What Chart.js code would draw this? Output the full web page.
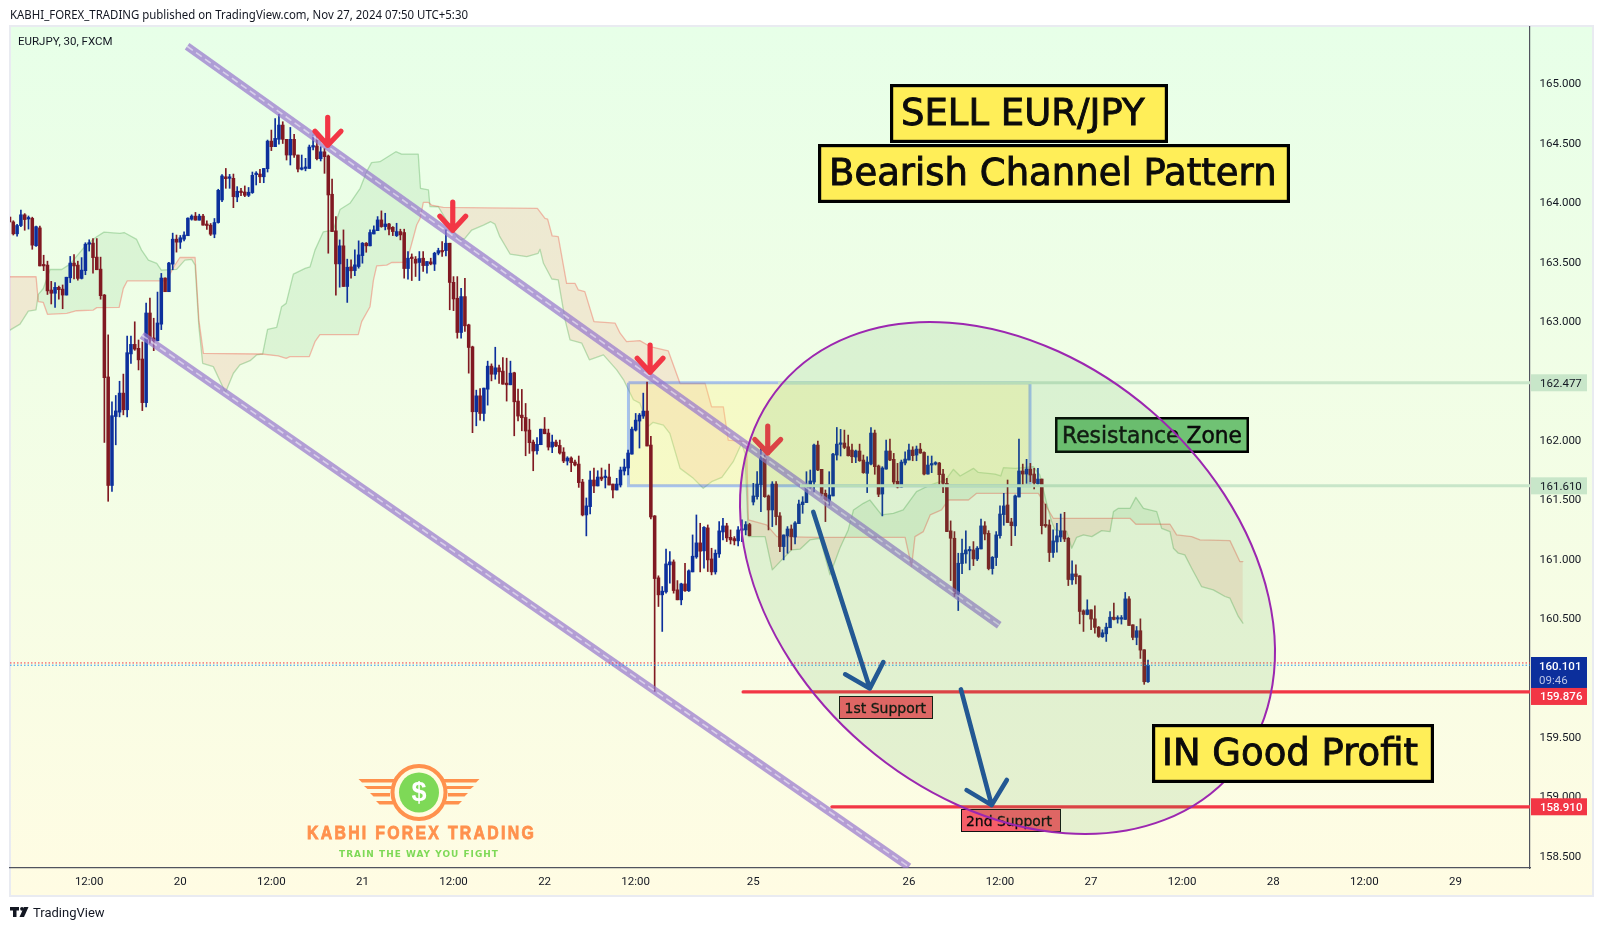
<!DOCTYPE html>
<html><head><meta charset="utf-8">
<style>html,body{margin:0;padding:0;background:#fff}canvas{display:block}</style>
<script src="https://cdn.jsdelivr.net/npm/chart.js@4/dist/chart.umd.js"></script>
</head><body><canvas id="c" width="1602" height="931"></canvas>
<script>
const opens=[163.87,163.83,163.73,163.80,163.89,163.855,163.86,163.63,163.78,163.467,
163.467,163.257,163.23,163.28,163.265,163.215,163.36,163.484,163.467,163.355,
163.42,163.643,163.652,163.534,163.433,163.215,162.526,161.613,162.193,162.23,
162.39,162.25,162.72,162.80,162.767,162.677,162.31,163.064,162.854,162.83,
162.97,163.358,163.243,163.475,163.685,163.66,163.685,163.714,163.853,163.879,
163.845,163.879,163.811,163.803,163.727,163.825,164.015,164.21,164.197,164.197,
164.04,164.088,164.082,164.054,164.077,164.228,164.233,164.21,164.278,164.51,
164.463,164.525,164.645,164.525,164.393,164.525,164.393,164.273,164.28,164.28,
164.46,164.469,164.362,164.42,164.385,164.063,163.755,163.477,163.629,163.287,
163.452,163.421,163.455,163.547,163.651,163.629,163.729,163.757,163.847,163.791,
163.813,163.785,163.715,163.749,163.741,163.438,163.533,163.517,163.489,163.525,
163.463,163.494,163.475,163.567,163.589,163.589,163.651,163.322,163.188,162.90,
163.202,162.964,162.779,162.233,162.367,162.219,162.423,162.617,162.549,162.603,
162.575,162.474,162.46,162.561,162.323,162.205,162.185,162.079,161.978,161.905,
161.956,162.087,162.054,161.936,161.978,161.95,161.894,161.819,161.844,161.81,
161.793,161.642,161.365,161.435,161.659,161.609,161.684,161.679,161.684,161.625,
161.575,161.617,161.735,161.76,161.877,162.079,162.155,162.197,162.239,161.953,
161.357,160.836,160.693,160.718,160.945,160.97,160.735,160.651,160.785,160.727,
160.886,161.012,161.13,161.063,161.256,160.995,160.886,161.037,161.222,161.273,
161.177,161.166,161.147,161.236,161.239,161.284,161.474,161.519,161.62,161.844,
161.525,161.407,161.625,161.357,161.099,161.189,161.247,161.18,161.292,161.452,
161.469,161.6,161.642,161.953,161.749,161.547,161.483,161.525,161.869,161.959,
161.97,161.939,161.911,161.852,161.903,161.827,161.715,161.793,162.054,161.777,
161.541,161.751,161.903,161.833,161.648,161.6,161.802,161.827,161.911,161.869,
161.919,161.891,161.709,161.785,161.793,161.802,161.709,161.631,161.231,161.169,
160.701,160.956,161.037,161.063,161.071,160.995,161.079,161.273,161.211,160.914,
161.007,161.191,161.368,161.449,161.306,161.273,161.516,161.735,161.709,161.751,
161.709,161.628,161.667,161.281,161.281,161.049,161.138,161.18,161.231,161.169,
160.819,160.869,160.853,160.559,160.528,160.567,160.491,160.421,160.34,160.365,
160.416,160.505,160.489,160.489,160.486,160.659,160.441,160.335,160.391,160.231,159.962];
const highs=[163.87,163.84,163.81,163.93,163.90,163.88,163.87,163.795,163.795,163.55,
163.50,163.33,163.32,163.29,163.30,163.365,163.54,163.556,163.50,163.53,
163.655,163.68,163.69,163.69,163.534,163.22,162.88,162.316,162.37,162.49,
162.55,162.87,162.87,162.99,162.837,162.82,163.148,163.19,163.02,163.24,
163.397,163.36,163.49,163.736,163.72,163.716,163.747,163.865,163.89,163.91,
163.895,163.895,163.84,163.817,163.859,164.105,164.228,164.28,164.23,164.233,
164.127,164.113,164.133,164.12,164.25,164.253,164.273,164.28,164.519,164.603,
164.70,164.735,164.673,164.525,164.625,164.567,164.393,164.393,164.365,164.477,
164.56,164.57,164.463,164.449,164.393,164.191,163.875,163.679,163.763,163.517,
163.511,163.595,163.671,163.657,163.657,163.763,163.797,163.875,163.923,163.903,
163.819,163.791,163.819,163.769,163.769,163.581,163.561,163.539,163.581,163.581,
163.497,163.525,163.575,163.609,163.665,163.763,163.651,163.37,163.37,163.272,
163.356,162.97,162.785,162.415,162.429,162.432,162.659,162.636,162.776,162.625,
162.689,162.684,162.659,162.566,162.423,162.421,162.303,162.171,161.995,162.017,
162.087,162.185,162.087,162.037,161.995,161.995,161.931,161.855,161.855,161.827,
161.861,161.665,161.508,161.735,161.76,161.737,161.76,161.743,161.793,161.625,
161.673,161.768,161.835,161.911,162.104,162.219,162.219,162.39,162.482,162.026,
161.36,160.853,160.763,161.077,161.057,160.987,160.813,160.791,160.959,160.903,
161.197,161.365,161.295,161.267,161.281,161.085,161.071,161.309,161.337,161.295,
161.239,161.183,161.267,161.323,161.309,161.295,161.631,161.729,161.933,161.869,
161.533,161.645,161.645,161.385,161.197,161.267,161.281,161.309,161.491,161.519,
161.729,161.743,161.961,161.987,161.749,161.575,161.729,161.883,162.101,162.085,
162.079,162.037,161.961,161.911,161.961,161.869,161.855,162.101,162.079,161.785,
161.771,161.995,162.003,161.883,161.799,161.827,161.897,161.961,161.939,161.945,
161.967,161.897,161.861,161.861,161.813,161.807,161.749,161.673,161.315,161.225,
161.043,161.163,161.231,161.099,161.141,161.099,161.331,161.309,161.233,161.015,
161.225,161.441,161.547,161.659,161.337,161.533,162.003,161.793,161.833,161.799,
161.757,161.757,161.667,161.457,161.323,161.239,161.295,161.373,161.387,161.175,
160.979,160.945,160.855,160.567,160.651,160.567,160.601,160.427,160.399,160.455,
160.553,160.623,160.517,160.519,160.713,160.679,160.441,160.427,160.491,160.231,160.144];
const lows=[163.83,163.72,163.71,163.79,163.76,163.77,163.60,163.625,163.46,163.42,
163.22,163.14,163.11,163.18,163.10,163.215,163.32,163.35,163.34,163.35,
163.386,163.585,163.40,163.428,163.18,161.975,161.48,161.563,161.955,162.19,
162.207,162.19,162.64,162.75,162.585,162.243,162.274,162.81,162.747,162.83,
162.924,163.243,163.243,163.428,163.576,163.607,163.67,163.714,163.845,163.845,
163.845,163.803,163.767,163.716,163.697,163.82,164.0,164.113,164.113,163.95,
164.0,164.05,164.043,164.043,164.07,164.141,164.16,164.16,164.25,164.43,
164.463,164.485,164.49,164.351,164.309,164.373,164.25,164.267,164.26,164.28,
164.435,164.351,164.343,164.239,163.567,163.749,163.214,163.281,163.287,163.153,
163.357,163.377,163.441,163.483,163.575,163.629,163.729,163.757,163.785,163.763,
163.721,163.715,163.707,163.679,163.357,163.349,163.337,163.371,163.337,163.413,
163.399,163.469,163.421,163.553,163.539,163.545,163.091,163.084,162.852,162.852,
162.908,162.558,162.057,162.115,162.163,162.157,162.289,162.493,162.507,162.471,
162.465,162.323,162.46,162.031,162.157,162.073,161.863,161.883,161.737,161.877,
161.956,162.048,161.911,161.889,161.939,161.877,161.805,161.785,161.729,161.777,
161.597,161.357,161.189,161.373,161.553,161.609,161.653,161.592,161.617,161.508,
161.575,161.6,161.701,161.701,161.877,162.071,161.928,162.177,161.945,161.331,
159.881,160.595,160.385,160.707,160.791,160.707,160.651,160.609,160.721,160.721,
160.886,161.0,160.886,160.917,160.889,160.861,160.867,161.007,161.155,161.141,
161.121,161.113,161.105,161.141,161.197,161.189,161.449,161.497,161.393,161.513,
161.239,161.267,161.281,161.057,160.987,161.043,161.071,161.121,161.292,161.379,
161.469,161.589,161.561,161.737,161.525,161.309,161.446,161.525,161.827,161.861,
161.922,161.861,161.805,161.805,161.816,161.715,161.553,161.785,161.707,161.519,
161.357,161.751,161.821,161.614,161.592,161.6,161.785,161.827,161.821,161.821,
161.883,161.701,161.709,161.721,161.785,161.623,161.553,161.225,160.813,160.679,
160.561,160.872,160.959,160.903,160.939,160.981,161.079,161.155,160.903,160.867,
160.939,161.169,161.278,161.301,161.107,161.191,161.516,161.617,161.631,161.645,
161.583,161.609,161.205,161.261,160.973,161.007,161.051,161.141,161.141,160.771,
160.78,160.785,160.449,160.385,160.525,160.399,160.371,160.335,160.335,160.301,
160.416,160.483,160.455,160.447,160.486,160.435,160.315,160.273,160.158,159.94,159.957];
const closes=[163.83,163.73,163.80,163.89,163.85,163.86,163.635,163.79,163.46,163.46,
163.25,163.23,163.28,163.26,163.215,163.365,163.484,163.46,163.355,163.425,
163.643,163.65,163.53,163.428,163.21,162.52,161.613,162.20,162.24,162.39,
162.25,162.73,162.80,162.76,162.67,162.31,163.064,162.845,162.83,162.98,
163.358,163.243,163.484,163.685,163.66,163.697,163.72,163.862,163.879,163.845,
163.879,163.803,163.80,163.727,163.825,164.096,164.217,164.194,164.205,164.043,
164.088,164.077,164.054,164.08,164.222,164.233,164.21,164.28,164.51,164.463,
164.533,164.645,164.525,164.393,164.525,164.393,164.275,164.278,164.287,164.46,
164.469,164.362,164.42,164.379,164.057,163.749,163.477,163.629,163.287,163.449,
163.419,163.469,163.553,163.651,163.629,163.741,163.763,163.847,163.791,163.813,
163.769,163.749,163.749,163.721,163.438,163.525,163.522,163.483,163.522,163.463,
163.497,163.477,163.567,163.589,163.578,163.651,163.321,163.182,162.90,163.202,
162.956,162.774,162.233,162.367,162.219,162.432,162.617,162.549,162.603,162.569,
162.465,162.46,162.558,162.317,162.197,162.183,162.071,161.973,161.903,161.959,
162.087,162.048,161.936,161.978,161.945,161.886,161.819,161.844,161.805,161.785,
161.637,161.365,161.441,161.659,161.609,161.684,161.667,161.684,161.617,161.575,
161.625,161.743,161.768,161.886,162.087,162.163,162.205,162.239,161.945,161.348,
160.83,160.693,160.724,160.953,160.97,160.729,160.651,160.785,160.727,160.895,
161.018,161.13,161.06,161.261,160.987,160.886,161.043,161.231,161.273,161.172,
161.155,161.147,161.239,161.245,161.284,161.191,161.525,161.625,161.844,161.519,
161.407,161.625,161.351,161.099,161.197,161.247,161.183,161.298,161.457,161.474,
161.609,161.651,161.953,161.743,161.541,161.483,161.533,161.877,161.961,161.97,
161.933,161.863,161.855,161.903,161.821,161.721,161.81,162.054,161.771,161.539,
161.76,161.903,161.827,161.642,161.6,161.81,161.835,161.911,161.864,161.919,
161.886,161.709,161.785,161.793,161.802,161.704,161.631,161.225,161.169,160.701,
160.959,161.043,161.071,161.068,160.995,161.085,161.273,161.205,160.914,161.009,
161.197,161.373,161.441,161.301,161.275,161.525,161.735,161.709,161.751,161.701,
161.634,161.667,161.275,161.273,161.049,161.147,161.189,161.231,161.163,160.822,
160.869,160.847,160.553,160.528,160.567,160.489,160.419,160.343,160.374,160.421,
160.505,160.486,160.494,160.494,160.659,160.435,160.335,160.391,160.228,159.962,160.101];

const spanA=[[0.13,162.92],[2.77,162.97],[4.96,163.08],[6.98,163.09],[7.6,163.22],[8.9,163.27],[10.67,163.43],[13.75,163.43],[15.94,163.475],[20.16,163.635],[22.97,163.705],[24.9,163.744],[29.1,163.733],[30.2,163.741],[33.5,163.683],[34.8,163.593],[36.6,163.509],[38.8,163.481],[40,163.425],[44.05,163.431],[46.2,163.509],[48,163.515],[48.9,163.467],[49.9,162.949],[50.9,162.641],[53.7,162.613],[56.9,162.395],[59,162.557],[60.7,162.627],[63.4,162.663],[65.1,162.711],[66.7,162.719],[68,162.927],[70.4,162.943],[71.7,163.117],[72.9,163.145],[74.8,163.391],[77.9,163.439],[79.2,163.453],[80.5,163.593],[82.7,163.747],[85.3,163.761],[87.1,163.935],[89.7,163.987],[92.4,164.113],[94.1,164.253],[95.4,164.329],[97.6,164.337],[101.8,164.421],[103.3,164.401],[107.7,164.401],[108.3,164.113],[110.4,164.099],[110.8,163.959],[113,163.958],[116.1,163.79],[118.7,163.678],[120,163.692],[121.8,163.762],[124.9,163.804],[126.8,163.832],[127.9,163.812],[129.2,163.706],[131.9,163.56],[136.3,163.538],[139.3,163.566],[139.8,163.6],[140.7,163.482],[142.9,163.35],[144.6,163.342],[146.4,163.006],[147.7,162.838],[150.8,162.81],[152.8,162.67],[156.5,162.712],[160,162.586],[161.8,162.502],[164.4,162.334],[166.1,162.306],[168.3,162.11],[169.6,162.144],[172.3,162.121],[174,162.051],[176.7,161.757],[180.2,161.673],[182.8,161.589],[185,161.645],[187.7,161.681],[190.7,161.813],[192.9,161.967],[193.8,161.883],[194.7,161.183],[199.1,161.183],[201,160.903],[203.5,160.987],[206.1,161.071],[208.3,161.077],[210.9,161.155],[213.6,161.169],[216.2,160.861],[218.8,161.085],[221,161.239],[222.4,161.407],[225,161.463],[226.7,161.491],[229.8,161.365],[232.9,161.379],[235.5,161.407],[239,161.561],[242.6,161.617],[245.2,161.645],[246.8,161.665],[248.7,161.749],[250.5,161.693],[254,161.757],[255.3,161.723],[259.7,161.709],[261.2,161.693],[261.9,161.763],[265,161.757],[269.8,161.771],[271.5,161.701],[273.3,161.463],[274.6,161.309],[275.5,161.239],[278.6,161.225],[279.9,161.085],[281.2,161.177],[283,161.197],[285.2,161.183],[287.8,161.233],[290,161.225],[290.9,161.393],[292.2,161.421],[295.3,161.421],[296.8,161.513],[298.8,161.421],[302.3,161.393],[303.6,161.253],[305.8,161.225],[306.7,161.085],[308,161.043],[309.7,161.029],[311.5,160.917],[314.1,160.763],[317.2,160.735],[320.3,160.679],[321.6,160.665],[323.8,160.511],[325,160.455]];
const spanB=[[0.13,163.369],[7,163.369],[7.6,163.159],[8.9,163.153],[10,163.053],[15.1,163.061],[17.7,163.083],[22.1,163.089],[23,163.109],[28.9,163.111],[30,163.271],[31.05,163.335],[41.4,163.335],[43.3,163.453],[44.9,163.531],[48.9,163.531],[49.9,163.005],[51.1,162.725],[66.45,162.719],[70.8,162.703],[72.9,162.683],[73.9,162.697],[79,162.697],[80.5,162.823],[81.8,162.882],[91.9,162.882],[92.8,162.991],[95,163.117],[95.9,163.341],[96.75,163.461],[99.4,163.467],[100.7,163.489],[104.65,163.49],[107.3,163.804],[108.2,163.86],[109.05,163.994],[110.4,163.994],[111.2,163.972],[114.3,163.952],[139.1,163.944],[141.1,163.86],[141.8,163.854],[143,163.712],[144.6,163.706],[146.8,163.314],[149,163.314],[149.9,163.258],[151.6,163.244],[154,162.992],[159.6,162.978],[160.9,162.894],[162.6,162.824],[166.1,162.832],[168.8,162.782],[173.6,162.745],[176.7,162.471],[183.3,162.471],[185,162.275],[188.1,162.275],[189.4,161.995],[194.2,161.981],[194.7,161.323],[199.5,161.281],[202.2,161.183],[213.6,161.177],[236,161.177],[237.7,160.931],[238.6,161.183],[240.8,161.225],[242.6,161.365],[245.6,161.407],[247.4,161.491],[252.7,161.491],[254.85,161.547],[271.1,161.547],[275.05,161.337],[295.25,161.337],[296.8,161.287],[305.8,161.287],[307.55,161.197],[311.5,161.183],[313.7,161.155],[321.6,161.149],[324.2,160.973],[325,160.973]];

const channelUpper=[[46.8,165.308],[260.8,160.438]];
const channelLower=[[34.9,162.877],[237,158.404]];
const redArrows=[
 [[83.85,164.71],[83.85,164.475],[83.85,null],[80.5,164.593],[83.85,164.475],[87.35,164.593]],
 [[116.8,163.996],[116.8,163.76],[116.8,null],[113.4,163.878],[116.8,163.76],[120.2,163.878]],
 [[168.8,162.793],[168.8,162.566],[168.8,null],[165.4,162.684],[168.8,162.566],[172.2,162.684]],
 [[199.8,162.112],[199.8,161.887],[199.8,null],[196.4,162.0],[199.8,161.887],[203.2,162.0]]
];
const blueArrows=[
 [[211.8,161.391],[226.7,159.906],[226.7,null],[220.2,160.024],[226.7,159.906],[230.25,160.127]],
 [[250.7,159.897],[258.8,158.924],[258.8,null],[252.2,159.05],[258.8,158.924],[262.8,159.135]]
];
const zoneTop=162.477, zoneBottom=161.61, zoneStart=163.1, zoneEnd=268.9;
const support1=159.876, support2=158.91, support1Start=193.3, support2Start=216.7;
const lastPrice=160.101, prevLine=160.12;
const xMin=0.13, xMax=400.66, yMin=158.395, yMax=165.47;
const timeTicks=[21,45,69,93,117,141,165,196,237,261,285,309,333,357,381];
const timeLabels=["12:00","20","12:00","21","12:00","22","12:00","25","26","12:00","27","12:00","28","12:00","29"];
const priceTicks=[158.5,159,159.5,160,160.5,161,161.5,162,162.5,163,163.5,164,164.5,165];

const BLUE='#0c2f9c', RED='#801922';
const pts=a=>a.map(p=>({x:p[0],y:p[1]}));
const line=(data,color,width,order,extra)=>Object.assign({type:'line',data:pts(data),borderColor:color,borderWidth:width,pointRadius:0,tension:0,fill:false,order,borderCapStyle:'round',borderJoinStyle:'round',spanGaps:false},extra||{});
const candleColor=opens.map((o,i)=>closes[i]>=o?BLUE:RED);

const datasets=[
 line(spanA,'rgba(67,160,71,0.33)',1.3,100,{fill:{target:1,above:'rgba(67,160,71,0.11)',below:'rgba(244,67,54,0.115)'}}),
 line(spanB,'rgba(244,67,54,0.35)',1.3,99),
 line([[zoneStart,zoneTop],[zoneEnd,zoneTop]],'rgba(0,0,0,0)',0,98,{fill:{value:zoneBottom},backgroundColor:'rgba(255,241,118,0.28)'}),
 line([[zoneStart,zoneTop],[zoneEnd,zoneTop],[zoneEnd,zoneBottom],[zoneStart,zoneBottom],[zoneStart,zoneTop]],'rgba(41,98,255,0.38)',3,97,{borderCapStyle:'butt',borderJoinStyle:'miter'}),
 {type:'bar',data:opens.map((o,i)=>({x:i,y:[lows[i],highs[i]]})),backgroundColor:candleColor,barThickness:1,grouped:false,order:60},
 {type:'bar',data:opens.map((o,i)=>({x:i,y:[o,closes[i]]})),backgroundColor:candleColor,barThickness:2.9,minBarLength:1.5,grouped:false,order:59},
 line(channelUpper,'rgba(149,117,205,0.7)',8,40,{borderCapStyle:'butt'}),
 line(channelUpper,'rgba(255,255,255,0.5)',1.6,39,{borderDash:[7,4],borderCapStyle:'butt'}),
 line(channelLower,'rgba(149,117,205,0.7)',8,40,{borderCapStyle:'butt'}),
 line(channelLower,'rgba(255,255,255,0.5)',1.6,39,{borderDash:[7,4],borderCapStyle:'butt'}),
 line([[202.5,zoneTop],[xMax,zoneTop]],'#c8e6c9',3,38,{borderCapStyle:'butt'}),
 line([[208.3,zoneBottom],[xMax,zoneBottom]],'#c8e6c9',3,38,{borderCapStyle:'butt'}),
 line([[xMin,prevLine],[xMax,prevLine]],'#f23645',1,37,{borderDash:[1.5,2],borderCapStyle:'butt'}),
 line([[xMin,lastPrice],[xMax,lastPrice]],'#2196f3',1,37,{borderDash:[1.5,2],borderCapStyle:'butt'}),
 line([[support1Start,support1],[xMax,support1]],'#f23645',3.2,30),
 line([[support2Start,support2],[xMax,support2]],'#f23645',3.2,30),
 ...redArrows.map(a=>line(a,'#f23645',5.2,20)),
 ...blueArrows.map(a=>line(a,'#1f4e9e',4.6,19))
];

function label(ctx,text,x0,y0,x1,y1,bg,border,bw,font,tx,tw,ink){
 ctx.save();ctx.fillStyle=bg;ctx.fillRect(x0,y0,x1-x0,y1-y0);
 ctx.lineWidth=bw;ctx.strokeStyle=border;ctx.strokeRect(x0+bw/2,y0+bw/2,x1-x0-bw,y1-y0-bw);
 ctx.fillStyle='#0b0b0b';ctx.font=font;ctx.textBaseline='middle';ctx.textAlign='left';
 if(ink){ctx.strokeStyle='#0b0b0b';ctx.lineWidth=ink;ctx.strokeText(text,tx,(y0+y1)/2+2,tw);}
 ctx.fillText(text,tx,(y0+y1)/2+2,tw);ctx.restore();
}
function priceBox(ctx,text,y,bg,color,w){
 ctx.fillStyle=bg;ctx.fillRect(1531,y-8.5,56,17);
 ctx.fillStyle=color;ctx.font=(w||400)+' 11.5px Roboto';ctx.textAlign='left';ctx.textBaseline='middle';ctx.fillText(text,1540,y+1);
}
function logo(ctx){
 ctx.save();const cx=419,cy=792.5,o='#ff914d',g='#7ed957';
 ctx.fillStyle=o;
 [[358.5,394,779,782.5],[364,391,786,789],[370,390,793,796.5],[376,393,801,804.5]].forEach(r=>{
  ctx.beginPath();ctx.moveTo(r[0],r[2]);ctx.lineTo(r[1],r[2]);ctx.lineTo(r[1],r[3]);ctx.lineTo(r[0]+3.5,r[3]);ctx.closePath();ctx.fill();
  const a=2*cx-r[0],b=2*cx-r[1];
  ctx.beginPath();ctx.moveTo(a,r[2]);ctx.lineTo(b,r[2]);ctx.lineTo(b,r[3]);ctx.lineTo(a-3.5,r[3]);ctx.closePath();ctx.fill();
 });
 ctx.fillStyle='#fffcdf';ctx.beginPath();ctx.arc(cx,cy,28,0,7);ctx.fill();
 ctx.strokeStyle=o;ctx.lineWidth=4;ctx.beginPath();ctx.arc(cx,cy,26.5,0,7);ctx.stroke();
 ctx.fillStyle=g;ctx.beginPath();ctx.arc(cx,cy,20,0,7);ctx.fill();
 ctx.fillStyle='#fff';ctx.font='bold 27px "Liberation Sans"';ctx.textAlign='center';ctx.textBaseline='middle';ctx.fillText('$',cx,cy+1);
 ctx.fillStyle=o;ctx.strokeStyle=o;ctx.lineWidth=0.8;ctx.font='bold 18px "Liberation Sans"';ctx.textAlign='left';
 ctx.letterSpacing='2.6px';ctx.strokeText('KABHI FOREX TRADING',307,834.5,229);ctx.fillText('KABHI FOREX TRADING',307,834.5,229);
 ctx.fillStyle=g;ctx.font='bold 9.5px "DejaVu Sans"';ctx.letterSpacing='1.1px';ctx.fillText('TRAIN THE WAY YOU FIGHT',339,855,160);
 ctx.letterSpacing='0px';ctx.restore();
}

const paint={id:'paint',
 beforeDraw(chart){
  const c=chart.ctx;
  const g=c.createLinearGradient(0,27,0,895);
  g.addColorStop(0,'#e7ffe8');g.addColorStop(1,'#fffce3');
  c.fillStyle=g;c.fillRect(11,27,1581,868);
  c.strokeStyle='#e9ebf1';c.lineWidth=2;c.strokeRect(10,26,1583,870);
  c.fillStyle='#131722';c.font='12px "Noto Sans"';c.textBaseline='middle';c.textAlign='left';
  c.fillText('KABHI_FOREX_TRADING published on TradingView.com, Nov 27, 2024 07:50 UTC+5:30',10,15.5,458);
  c.font='13px Roboto';c.fillText('TradingView',33,913.5);
  c.fillStyle='#131722';c.fillRect(10,907,9,3.5);c.fillRect(13,907,3.5,10);
  c.beginPath();c.arc(22,908.8,1.9,0,7);c.fill();
  c.beginPath();c.moveTo(24,907);c.lineTo(28.5,907);c.lineTo(24,917);c.lineTo(19.5,917);c.closePath();c.fill();
  c.fillStyle='#131722';c.font='11.5px Roboto';c.fillText('EURJPY, 30, FXCM',18,42.5);
 },
 afterDatasetsDraw(chart){
  const c=chart.ctx;
  logo(c);
  label(c,'SELL EUR/JPY',890,84,1168,143,'#ffee58','#000',3.2,'37px "DejaVu Sans"',901,257,0.9);
  label(c,'Bearish Channel Pattern',818,144,1290,203,'#ffee58','#000',3.2,'37px "DejaVu Sans"',829,450,0.9);
  label(c,'Resistance Zone',1055,417,1249,453,'#70c274','#000',2.5,'23px "DejaVu Sans"',1062,180,0.5);
  label(c,'1st Support',839,696,933,719,'#f55e68','#111',1,'14px "DejaVu Sans"',844.5,83,0.3);
  label(c,'2nd Support',961,809,1061,832,'#f55e68','#111',1,'14px "DejaVu Sans"',966,86,0.3);
  c.save();c.beginPath();c.ellipse(1007.5,578,297.6,220.3,40.7*Math.PI/180,0,Math.PI*2);
  c.fillStyle='rgba(67,160,71,0.125)';c.fill();
  c.strokeStyle='#9c27b0';c.lineWidth=2;c.stroke();c.restore();
  label(c,'IN Good Profit',1152,724,1434,783,'#ffee58','#000',3.2,'37px "DejaVu Sans"',1162,262,0.9);
 },
 afterDraw(chart){
  const c=chart.ctx,s=chart.scales.y;
  priceBox(c,zoneTop.toFixed(3),s.getPixelForValue(zoneTop),'#c8e6c9','#131722');
  priceBox(c,zoneBottom.toFixed(3),s.getPixelForValue(zoneBottom),'#c8e6c9','#131722');
  priceBox(c,support2.toFixed(3),s.getPixelForValue(support2),'#f23645','#fff',500);
  c.fillStyle=BLUE;c.fillRect(1531,657,56,31);
  c.fillStyle='#fff';c.font='500 11.5px Roboto';c.textAlign='left';c.textBaseline='middle';c.fillText(lastPrice.toFixed(3),1539,667);
  c.fillStyle='#b9c4e6';c.font='11.5px Roboto';c.fillText('09:46',1539,681);
  priceBox(c,support1.toFixed(3),s.getPixelForValue(support1)+4.5,'#f23645','#fff',500);
 }
};
new Chart(document.getElementById('c'),{
 type:'bar',data:{datasets},plugins:[paint],
 options:{responsive:false,animation:false,devicePixelRatio:1,
  layout:{padding:{left:10,top:27,right:10,bottom:36}},
  plugins:{legend:{display:false},tooltip:{enabled:false}},
  scales:{
   x:{type:'linear',min:xMin,max:xMax,offset:false,
    grid:{display:false,drawTicks:false},border:{display:true,color:'#50535e',width:1.2},
    afterBuildTicks(a){a.ticks=timeTicks.map(v=>({value:v}))},
    afterFit(a){a.height=27},
    ticks:{autoSkip:false,maxRotation:0,padding:7,color:'#131722',font:{family:'Roboto',size:11.5},
     callback(v){return timeLabels[timeTicks.indexOf(v)]}}},
   y:{type:'linear',position:'right',min:yMin,max:yMax,
    grid:{display:false,drawTicks:false},border:{display:true,color:'#50535e',width:1.2},
    afterBuildTicks(a){a.ticks=priceTicks.map(v=>({value:v}))},
    afterFit(a){a.width=62},
    ticks:{autoSkip:false,padding:9.5,labelOffset:1.5,color:'#131722',font:{family:'Roboto',size:11.5},
     callback(v){return v.toFixed(3)}}}
  }}
});
</script></body></html>
